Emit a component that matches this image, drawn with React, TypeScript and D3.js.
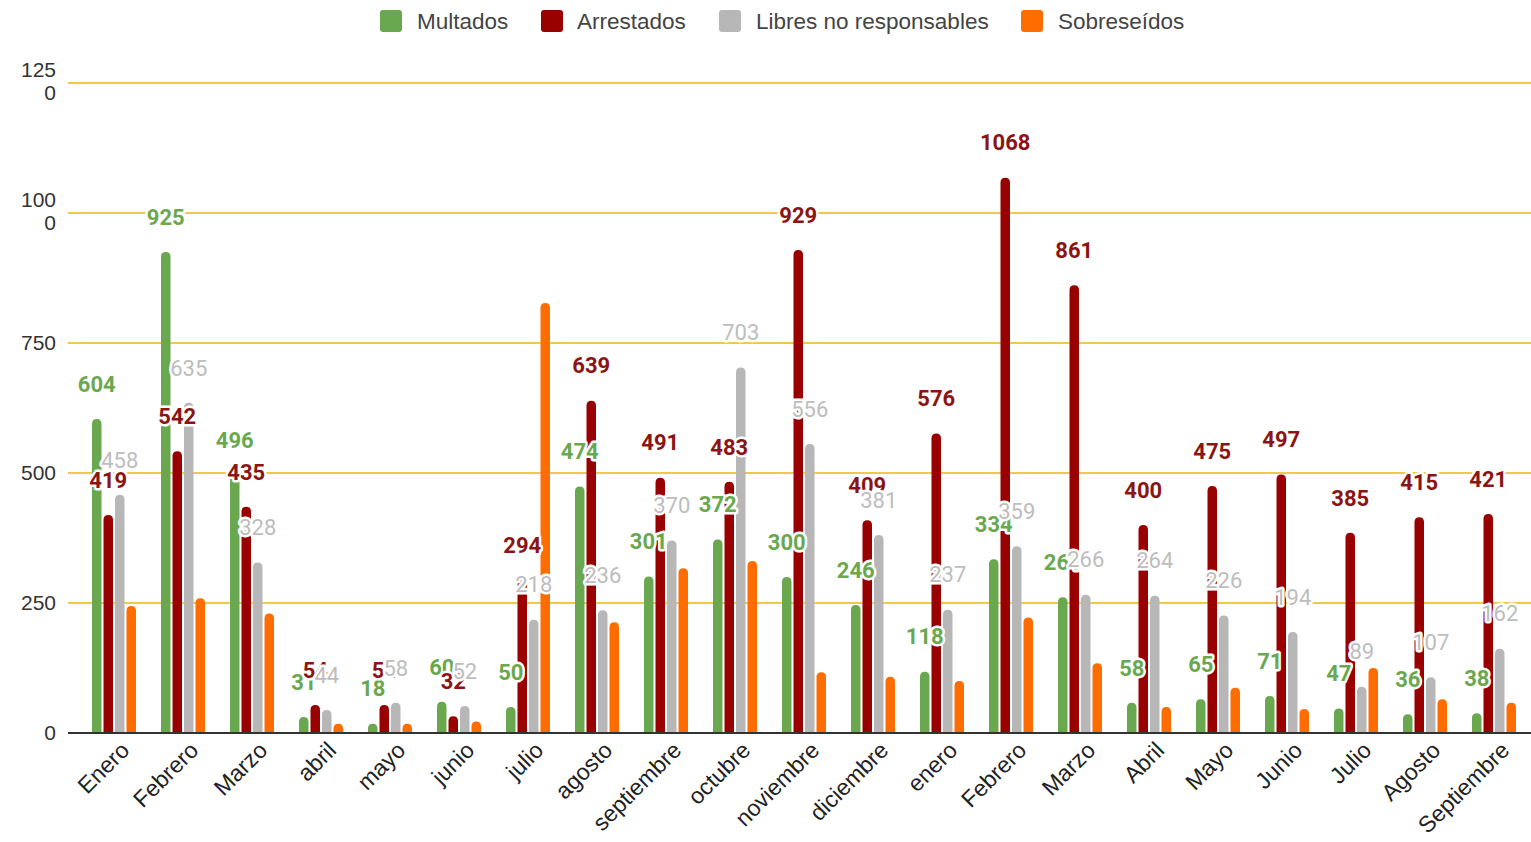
import React from "react";
import * as d3 from "d3";

const months = [
  "Enero", "Febrero", "Marzo", "abril", "mayo", "junio", "julio", "agosto",
  "septiembre", "octubre", "noviembre", "diciembre", "enero", "Febrero ",
  "Marzo ", "Abril", "Mayo", "Junio", "Julio", "Agosto", "Septiembre",
];
const multados = [604, 925, 496, 31, 18, 60, 50, 474, 301, 372, 300, 246, 118, 334, 261, 58, 65, 71, 47, 36, 38];
const arrestados = [419, 542, 435, 54, 54, 32, 294, 639, 491, 483, 929, 409, 576, 1068, 861, 400, 475, 497, 385, 415, 421];
const libres = [458, 635, 328, 44, 58, 52, 218, 236, 370, 703, 556, 381, 237, 359, 266, 264, 226, 194, 89, 107, 162];
const sobreseidos = [244, 259, 230, 18, 18, 22, 827, 213, 317, 331, 117, 108, 100, 222, 134, 50, 87, 46, 125, 65, 58];
const yTicks = [0, 250, 500, 750, 1000, 1250];

const seriesNames = ["Multados", "Arrestados", "Libres no responsables", "Sobreseídos"];
const seriesValues = [multados, arrestados, libres, sobreseidos];
const barColors = ["#6aa84f", "#990000", "#b7b7b7", "#ff6d01"];
const labelColors = ["#6aa84f", "#8b1414", "#bdbdbd", null];
const labelWeights = [700, 700, 400, 400];

const W = 1531;
const H = 842;

function roundTopBar(x: number, y0: number, y1: number, w: number) {
  const h = y0 - y1;
  const r = Math.min(w / 2, h);
  const p = d3.path();
  p.moveTo(x, y0);
  p.lineTo(x, y1 + r);
  p.quadraticCurveTo(x, y1, x + w / 2, y1);
  p.quadraticCurveTo(x + w, y1, x + w, y1 + r);
  p.lineTo(x + w, y0);
  p.closePath();
  return p.toString();
}

export default function App() {
  const x = d3.scaleBand<string>().domain(months.map((_, i) => String(i))).range([79.5, 1528.5]).padding(0);
  const xs = d3.scaleBand<string>().domain(["0", "1", "2", "3"]).range([-22, 22]).paddingInner(2 / 11.5).paddingOuter(0);
  const y = d3.scaleLinear().domain([0, 1250]).range([733, 83]);
  const bw = xs.bandwidth();

  const axisFont = "'Liberation Sans', Arial, sans-serif";
  const labelFont = "Roboto, 'Liberation Sans', sans-serif";

  const legendItems = [
    { x: 380, tx: 417 },
    { x: 541, tx: 577 },
    { x: 719, tx: 756 },
    { x: 1021, tx: 1058 },
  ];

  return (
    <svg width={W} height={H} style={{ position: "absolute", left: 0, top: 0, background: "#fff" }}>
      {/* legend */}
      {seriesNames.map((n, i) => (
        <g key={n}>
          <rect x={legendItems[i].x} y={10} width={22} height={22} rx={3} fill={barColors[i]} />
          <text x={legendItems[i].tx} y={21} dy="0.35em" fontFamily={axisFont} fontSize={22.5} fill="#444">
            {n}
          </text>
        </g>
      ))}

      {/* grid */}
      {yTicks.filter((t) => t > 0).map((t) => (
        <line key={t} x1={68} x2={1531} y1={y(t)} y2={y(t)} stroke="#f1c84b" strokeWidth={2} />
      ))}
      {/* y labels */}
      {yTicks.map((t) => {
        const s = String(t);
        if (s.length > 3) {
          return (
            <text key={t} x={56} y={y(t)} fontFamily={axisFont} fontSize={21} fill="#333" textAnchor="end">
              <tspan x={56} dy="-0.3em">{s.slice(0, 3)}</tspan>
              <tspan x={56} dy="1.1em">{s.slice(3)}</tspan>
            </text>
          );
        }
        return (
          <text key={t} x={56} y={y(t)} dy="0.35em" fontFamily={axisFont} fontSize={21} fill="#333" textAnchor="end">
            {s}
          </text>
        );
      })}

      {/* bars */}
      {months.map((m, i) => (
        <g key={"b" + i}>
          {seriesValues.map((vals, s) => {
            const cx = (x(String(i)) as number) + x.bandwidth() / 2 + (xs(String(s)) as number);
            return <path key={s} d={roundTopBar(cx, y(0), y(vals[i]), bw)} fill={barColors[s]} />;
          })}
        </g>
      ))}

      {/* baseline */}
      <line x1={68} x2={1531} y1={y(0)} y2={y(0)} stroke="#333" strokeWidth={2} />

      {/* data labels */}
      {[0, 1, 2].map((s) => (
        <g key={"l" + s}>
          {months.map((m, i) => {
            const cx = (x(String(i)) as number) + x.bandwidth() / 2 + (xs(String(s)) as number) + bw / 2;
            const v = seriesValues[s][i];
            return (
              <text
                key={i}
                x={cx}
                y={y(v) - 35}
                dy="0.35em"
                textAnchor="middle"
                fontFamily={labelFont}
                fontWeight={labelWeights[s]}
                fontSize={22}
                fill={labelColors[s] as string}
                stroke="#fff"
                strokeWidth={5}
                strokeLinejoin="round"
                style={{ paintOrder: "stroke" }}
              >
                {v}
              </text>
            );
          })}
        </g>
      ))}

      {/* x labels */}
      {months.map((m, i) => {
        const cx = (x(String(i)) as number) + x.bandwidth() / 2 + 11;
        return (
          <text
            key={"x" + i}
            transform={`translate(${cx},${746}) rotate(-45)`}
            textAnchor="end"
            dy="0.35em"
            fontFamily={axisFont}
            fontSize={23}
            fill="#222"
          >
            {m.trim()}
          </text>
        );
      })}
    </svg>
  );
}
